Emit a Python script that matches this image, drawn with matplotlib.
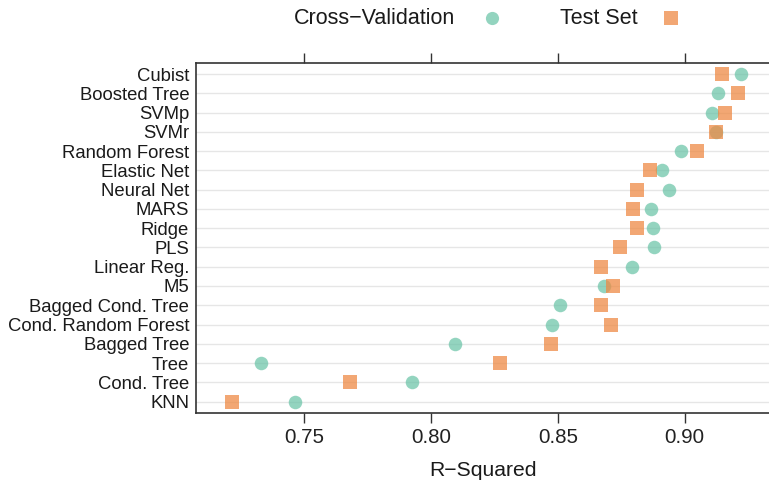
import matplotlib
matplotlib.use("Agg")
import matplotlib.pyplot as plt
from matplotlib.lines import Line2D

plt.rcParams['font.family'] = ['Liberation Sans', 'DejaVu Sans']

models = ["Cubist", "Boosted Tree", "SVMp", "SVMr", "Random Forest", "Elastic Net",
          "Neural Net", "MARS", "Ridge", "PLS", "Linear Reg.", "M5",
          "Bagged Cond. Tree", "Cond. Random Forest", "Bagged Tree", "Tree",
          "Cond. Tree", "KNN"]
cv_rsq = [0.9220, 0.9130, 0.9108, 0.9125, 0.8985, 0.8910, 0.8936, 0.8867, 0.8875,
          0.8880, 0.8794, 0.8681, 0.8509, 0.8475, 0.8093, 0.7328, 0.7923, 0.7465]
test_rsq = [0.9147, 0.9210, 0.9160, 0.9125, 0.9050, 0.8863, 0.8812, 0.8796, 0.8812,
            0.8743, 0.8671, 0.8717, 0.8668, 0.8708, 0.8471, 0.8270, 0.7682, 0.7214]
xticks = [0.75, 0.80, 0.85, 0.90]
legend_labels = ["Cross\u2212Validation", "Test Set"]

green = "#66c2a5"
orange = "#ee8a45"

fig = plt.figure(figsize=(7.69, 4.86), dpi=100)
ax = fig.add_axes([0.255, 0.150, 0.745, 0.720])

n = len(models)
ypos = [n - 1 - i for i in range(n)]
for y in ypos:
    ax.axhline(y, color="#e6e6e6", lw=1.0, zorder=0)

ax.scatter(cv_rsq, ypos, s=95, marker="o", color=green, alpha=0.7, lw=0, zorder=3)
ax.scatter(test_rsq, ypos, s=95, marker="s", color=orange, alpha=0.75, lw=0, zorder=3)

ax.set_yticks(ypos)
ax.set_yticklabels(models, fontsize=13.3, color="#1a1a1a")
ax.tick_params(axis="y", length=0, pad=5)
ax.set_xticks(xticks)
ax.set_xticklabels([f"{t:.2f}" for t in xticks], fontsize=14.8, color="#222222")
ax.tick_params(axis="x", top=True, bottom=True, direction="out", length=7,
               width=1.0, color="#333333", pad=4)
ax.set_xlim(0.7074, 0.9332)
ax.set_ylim(-0.6, n - 1 + 0.57)
ax.set_xlabel("R\u2212Squared", fontsize=15.2, color="#1a1a1a", labelpad=10)
for s in ["left", "top", "bottom"]:
    ax.spines[s].set_color("#333333")
    ax.spines[s].set_linewidth(1.2)
ax.spines["right"].set_visible(False)

# legend (placed manually as in the reference)
ly = 1 - 18 / 486
fig.text(294 / 769, ly, legend_labels[0], ha="left", va="center", fontsize=15.5, color="#1a1a1a")
fig.text(560 / 769, ly, legend_labels[1], ha="left", va="center", fontsize=15.5, color="#1a1a1a")
fig.add_artist(Line2D([492 / 769], [ly], marker="o", ls="", color=green, alpha=0.7,
                      markersize=9.5, mew=0, transform=fig.transFigure))
fig.add_artist(Line2D([671 / 769], [ly], marker="s", ls="", color=orange, alpha=0.75,
                      markersize=9.5, mew=0, transform=fig.transFigure))

fig.savefig("out.png", dpi=100)
